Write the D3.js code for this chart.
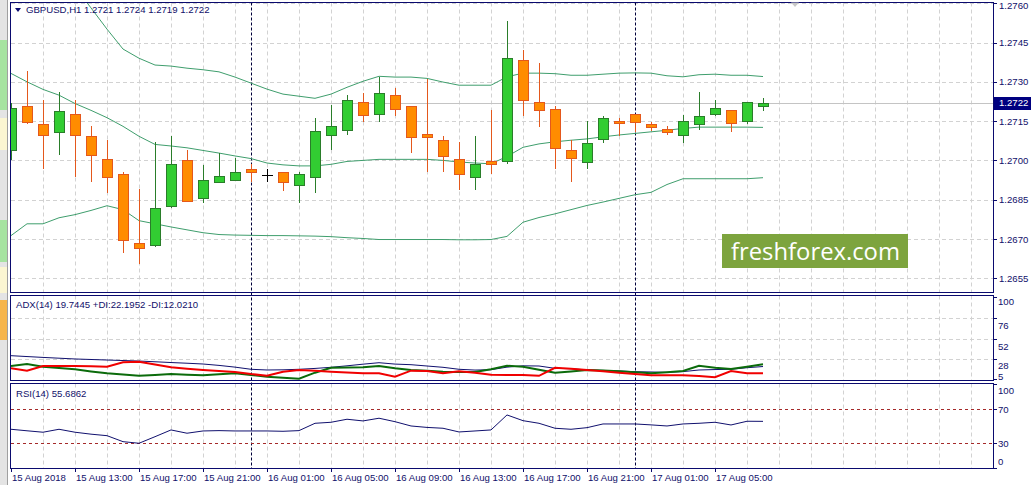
<!DOCTYPE html>
<html>
<head>
<meta charset="utf-8">
<script src="https://cdn.jsdelivr.net/npm/d3@7"></script>
<style>
body { margin: 0; background: #fff; }
svg text { font-family: "Liberation Sans", Arial, sans-serif; font-size: 9.6px; fill: #10106a; }
</style>
</head>
<body>
<svg id="chart" width="1035" height="485"></svg>
<script>
// GBPUSD H1, 15 Aug 09:00 .. 17 Aug 08:00 (one value per bar)
const openP  = [1.27038,1.27209,1.27140,1.27108,1.27179,1.27092,1.27006,1.26949,1.26685,1.26677,
                1.26825,1.27000,1.26856,1.26917,1.26925,1.26968,1.26945,1.26957,1.26907,1.26936,
                1.27097,1.27117,1.27221,1.27179,1.27251,1.27209,1.27100,1.27079,1.27006,1.26939,
                1.26997,1.26997,1.27382,1.27221,1.27198,1.27038,1.26997,1.27079,1.27149,1.27179,
                1.27140,1.27119,1.27097,1.27140,1.27178,1.27191,1.27147,1.27210];
const highP  = [1.27220,1.27341,1.27230,1.27260,1.27232,1.27130,1.27079,1.26954,1.26889,1.27070,
                1.27093,1.27041,1.26981,1.27028,1.27009,1.26987,1.26969,1.26957,1.26955,1.27163,
                1.27210,1.27251,1.27259,1.27319,1.27278,1.27209,1.27311,1.27092,1.27070,1.27092,
                1.27191,1.27532,1.27421,1.27372,1.27207,1.27079,1.27149,1.27171,1.27160,1.27179,
                1.27148,1.27130,1.27172,1.27261,1.27230,1.27191,1.27221,1.27240];
const lowP   = [1.27000,1.27138,1.26969,1.27019,1.26936,1.26917,1.26875,1.26645,1.26605,1.26670,
                1.26817,1.26844,1.26837,1.26917,1.26925,1.26917,1.26916,1.26885,1.26837,1.26875,
                1.27038,1.27096,1.27147,1.27147,1.27170,1.27028,1.26955,1.26955,1.26888,1.26888,
                1.26949,1.26987,1.27170,1.27127,1.26968,1.26917,1.26968,1.27066,1.27092,1.27108,
                1.27112,1.27096,1.27066,1.27115,1.27168,1.27108,1.27138,1.27190];
const closeP = [1.27199,1.27147,1.27098,1.27190,1.27098,1.27018,1.26938,1.26697,1.26666,1.26819,
                1.26987,1.26844,1.26926,1.26939,1.26957,1.26955,1.26945,1.26918,1.26949,1.27111,
                1.27130,1.27230,1.27170,1.27259,1.27198,1.27089,1.27089,1.27018,1.26949,1.26987,
                1.26987,1.27389,1.27228,1.27190,1.27049,1.27006,1.27068,1.27160,1.27140,1.27147,
                1.27127,1.27108,1.27149,1.27171,1.27199,1.27140,1.27221,1.27220];

// Bollinger bands
const bbUpper  = [1.27957,1.27888,1.27815,1.27739,1.27662,1.27582,1.27501,1.27425,1.27390,1.27364,
                  1.27360,1.27352,1.27346,1.27338,1.27318,1.27295,1.27272,1.27253,1.27245,1.27237,
                  1.27253,1.27279,1.27302,1.27321,1.27318,1.27318,1.27313,1.27299,1.27287,1.27287,
                  1.27287,1.27319,1.27333,1.27333,1.27331,1.27325,1.27325,1.27329,1.27333,1.27334,
                  1.27333,1.27323,1.27319,1.27327,1.27329,1.27325,1.27325,1.27320];
const bbMiddle = [1.27332,1.27300,1.27271,1.27249,1.27217,1.27191,1.27163,1.27130,1.27092,1.27061,
                  1.27055,1.27048,1.27038,1.27028,1.27017,1.27007,1.26990,1.26983,1.26979,1.26979,
                  1.26985,1.26996,1.27000,1.27004,1.27004,1.27004,1.27004,1.27000,1.26994,1.26990,
                  1.26987,1.27015,1.27050,1.27063,1.27071,1.27077,1.27082,1.27090,1.27097,1.27103,
                  1.27109,1.27115,1.27122,1.27127,1.27127,1.27127,1.27127,1.27126];
const bbLower  = [1.26713,1.26758,1.26758,1.26781,1.26793,1.26809,1.26827,1.26812,1.26770,1.26758,
                  1.26746,1.26735,1.26724,1.26717,1.26715,1.26714,1.26713,1.26713,1.26712,1.26711,
                  1.26709,1.26705,1.26702,1.26698,1.26698,1.26698,1.26698,1.26698,1.26697,1.26697,
                  1.26698,1.26710,1.26764,1.26782,1.26796,1.26812,1.26828,1.26841,1.26855,1.26869,
                  1.26878,1.26908,1.26930,1.26930,1.26930,1.26930,1.26930,1.26934];

// ADX(14)
const adxMain = [32.2,31.2,30.2,29.3,28.4,27.8,27.2,26.6,26.0,25.2,24.3,23.5,22.6,21.0,19.0,16.5,
                 15.7,15.9,16.5,17.5,18.8,20.5,22.4,24.1,22.5,21.8,20.3,18.8,16.5,15.6,16.0,19.0,
                 20.5,20.3,17.6,17.2,15.7,15.2,14.6,13.7,13.4,13.0,13.8,15.7,16.2,16.5,18.3,19.7];
const plusDI  = [20.3,22.6,19.5,18.0,16.5,14.0,11.9,10.5,9.1,10.0,11.1,10.3,9.6,10.8,11.9,10.0,
                 8.0,6.8,5.7,12.6,18.3,18.5,18.8,20.3,17.6,15.7,14.7,13.7,13.5,13.4,16.5,20.6,
                 19.5,16.0,12.6,14.0,15.7,15.0,14.2,13.0,11.9,13.0,14.5,20.6,18.3,16.8,19.5,22.2];
const minusDI = [17.6,14.9,20.3,20.3,20.3,20.0,19.5,24.6,25.3,22.0,18.8,17.2,15.7,14.5,13.4,11.0,
                 9.1,13.7,15.7,14.7,13.7,12.8,11.9,11.9,8.0,14.9,14.5,11.9,14.2,12.6,10.3,10.0,
                 9.9,9.0,18.3,17.0,15.7,14.2,12.6,11.0,9.6,9.6,9.6,8.8,7.3,14.5,11.9,12.0];

// RSI(14)
const rsiVals = [46.3,44.5,42.8,46.3,42.8,40.5,38.7,31.6,29.7,37.5,45.5,41.6,44.3,44.7,44.3,44.3,
                 44.3,43.9,44.7,53.4,54.6,58.2,56.2,59.4,55.3,50.2,48.5,47.5,43.1,44.3,45.5,63.3,
                 56.5,53.4,47.5,46.3,48.2,52.6,52.6,52.6,51.5,50.2,52.6,53.4,54.6,51.4,55.8,55.69];

const timeLabels = ["15 Aug 2018","15 Aug 13:00","15 Aug 17:00","15 Aug 21:00","16 Aug 01:00","16 Aug 05:00",
                    "16 Aug 09:00","16 Aug 13:00","16 Aug 17:00","16 Aug 21:00","17 Aug 01:00","17 Aug 05:00"];
const daySeparators = [15, 39];
const priceTicks = [1.2760, 1.2745, 1.2730, 1.2715, 1.2700, 1.2685, 1.2670, 1.2655];
const adxTicks = [100, 76, 52, 28, 5];
const adxGrid = [76, 52, 28];
const rsiTicks = [100, 70, 30, 0];
const rsiLevels = [70, 30];
const lastBid = 1.2722;

const svg = d3.select("#chart");
const navy = "#0a0a6e";
const gridCol = "#d2d2d2";

// scales
const x = d3.scaleLinear().domain([0, 61.375]).range([11, 993]);
const yP = d3.scaleLinear().domain([1.2655, 1.2760]).range([278.3, 3.2]);
const yA = d3.scaleLinear().domain([0, 100]).range([383.6, 296.9]);
const yR = d3.scaleLinear().domain([0, 100]).range([468.3, 384]);

const px = v => Math.round(v) + 0.5;

const panels = [
    {id: "pMain", top: 2.5, bottom: 292.5},
    {id: "pAdx", top: 295.5, bottom: 380.5},
    {id: "pRsi", top: 383.5, bottom: 468.5}
];

// left window strip
svg.append("rect").attr("x", 0).attr("y", 0).attr("width", 8).attr("height", 485).attr("fill", "#e4e4e4");
svg.append("rect").attr("x", 0).attr("y", 40).attr("width", 7).attr("height", 70).attr("fill", "#a6e3a0");
svg.append("rect").attr("x", 0).attr("y", 118).attr("width", 7).attr("height", 32).attr("fill", "#fbf6d2");
svg.append("rect").attr("x", 0).attr("y", 220).attr("width", 7).attr("height", 42).attr("fill", "#a6e3a0");
svg.append("rect").attr("x", 0).attr("y", 267).attr("width", 7).attr("height", 26).attr("fill", "#fbf6d2");
svg.append("rect").attr("x", 0).attr("y", 300).attr("width", 7).attr("height", 40).attr("fill", "#f6b54a");
svg.append("line").attr("x1", 7.5).attr("x2", 7.5).attr("y1", 0).attr("y2", 485).attr("stroke", "#a0a0a0");

const defs = svg.append("defs");
panels.forEach(p => {
    defs.append("clipPath").attr("id", "clip-" + p.id)
      .append("rect").attr("x", 11).attr("y", p.top + 0.5)
        .attr("width", 982).attr("height", p.bottom - p.top - 1);
});

// vertical grid in every panel
const gridIdx = d3.range(2, 62, 2);
panels.forEach(p => {
    svg.append("g").selectAll("line").data(gridIdx).join("line")
        .attr("x1", d => px(x(d))).attr("x2", d => px(x(d)))
        .attr("y1", p.top).attr("y2", p.bottom)
        .attr("stroke", gridCol).attr("stroke-dasharray", "4,3");
});

// horizontal grid
svg.append("g").selectAll("line").data(priceTicks).join("line")
    .attr("x1", 11).attr("x2", 993)
    .attr("y1", d => px(yP(d))).attr("y2", d => px(yP(d)))
    .attr("stroke", gridCol).attr("stroke-dasharray", "4,3");
svg.append("g").selectAll("line").data(adxGrid).join("line")
    .attr("x1", 11).attr("x2", 993)
    .attr("y1", d => px(yA(d))).attr("y2", d => px(yA(d)))
    .attr("stroke", gridCol).attr("stroke-dasharray", "4,3");

// bid line
svg.append("line").attr("x1", 11).attr("x2", 993)
    .attr("y1", px(yP(lastBid))).attr("y2", px(yP(lastBid)))
    .attr("stroke", "#c4c4c4");

// day separators
svg.append("g").selectAll("line").data(daySeparators).join("line")
    .attr("x1", d => px(x(d))).attr("x2", d => px(x(d)))
    .attr("y1", 2.5).attr("y2", 468.5)
    .attr("stroke", "#00003a").attr("stroke-dasharray", "3,2");

// watermark
svg.append("rect").attr("x", 722).attr("y", 234).attr("width", 186).attr("height", 34).attr("fill", "#7da43e");
svg.append("text").attr("x", 731).attr("y", 259.5)
    .attr("textLength", 169).attr("lengthAdjust", "spacingAndGlyphs")
    .style("font-family", "'Open Sans', 'DejaVu Sans', sans-serif").style("font-size", "24px").style("fill", "#ffffff")
    .text("freshforex.com");

// main panel: bands + candles
const gMain = svg.append("g").attr("clip-path", "url(#clip-pMain)");
const bandLine = arr => d3.line().x((d, i) => x(i)).y(d => yP(d))(arr);
[bbUpper, bbMiddle, bbLower].forEach(arr => {
    gMain.append("path").attr("d", bandLine(arr))
        .attr("fill", "none").attr("stroke", "#3f9e6d").attr("stroke-width", 1);
});

const bars = openP.map((o, i) => ({i: i, o: o, h: highP[i], l: lowP[i], c: closeP[i]}));
const upFill = "#32cd32", upLine = "#2a7d2a", dnFill = "#ff8c00", dnLine = "#e4581c";

const candle = gMain.selectAll("g.candle").data(bars).join("g").attr("class", "candle")
    .attr("shape-rendering", "crispEdges");
candle.append("line")
    .attr("x1", d => px(x(d.i))).attr("x2", d => px(x(d.i)))
    .attr("y1", d => yP(d.h)).attr("y2", d => yP(d.l))
    .attr("stroke", d => d.c > d.o ? upLine : (d.c < d.o ? dnLine : "#000"));
candle.filter(d => d.c !== d.o).append("rect")
    .attr("x", d => Math.round(x(d.i)) - 4.5)
    .attr("y", d => Math.round(yP(Math.max(d.o, d.c))) + 0.5)
    .attr("width", 10)
    .attr("height", d => Math.max(1, Math.round(Math.abs(yP(d.o) - yP(d.c)))))
    .attr("fill", d => d.c > d.o ? upFill : dnFill)
    .attr("stroke", d => d.c > d.o ? upLine : dnLine);
// doji is drawn in the line colour
candle.filter(d => d.c === d.o).append("line")
    .attr("x1", d => Math.round(x(d.i)) - 5).attr("x2", d => Math.round(x(d.i)) + 6)
    .attr("y1", d => px(yP(d.o))).attr("y2", d => px(yP(d.o)))
    .attr("stroke", "#000");

// ADX panel
const gAdx = svg.append("g").attr("clip-path", "url(#clip-pAdx)");
const adxLine = d3.line().x((d, i) => x(i)).y(d => yA(d));
gAdx.append("path").attr("d", adxLine(adxMain)).attr("fill", "none").attr("stroke", "#10106e").attr("stroke-width", 1);
gAdx.append("path").attr("d", adxLine(plusDI)).attr("fill", "none").attr("stroke", "#0b6b0b").attr("stroke-width", 2);
gAdx.append("path").attr("d", adxLine(minusDI)).attr("fill", "none").attr("stroke", "#f00000").attr("stroke-width", 2);

// RSI panel
const gRsi = svg.append("g").attr("clip-path", "url(#clip-pRsi)");
gRsi.selectAll("line.level").data(rsiLevels).join("line").attr("class", "level")
    .attr("x1", 11).attr("x2", 993)
    .attr("y1", d => px(yR(d))).attr("y2", d => px(yR(d)))
    .attr("stroke", "#a52a2a").attr("stroke-dasharray", "3,3");
gRsi.append("path").attr("d", d3.line().x((d, i) => x(i)).y(d => yR(d))(rsiVals))
    .attr("fill", "none").attr("stroke", "#10106e").attr("stroke-width", 1);

// panel frames
panels.forEach(p => {
    svg.append("rect").attr("x", 10.5).attr("y", p.top)
        .attr("width", 983).attr("height", p.bottom - p.top)
        .attr("fill", "none").attr("stroke", navy);
});

// right price axis
const axisG = svg.append("g");
axisG.selectAll("line.pt").data(priceTicks).join("line").attr("class", "pt")
    .attr("x1", 993).attr("x2", 997)
    .attr("y1", d => px(yP(d))).attr("y2", d => px(yP(d))).attr("stroke", navy);
axisG.selectAll("text.pt").data(priceTicks).join("text").attr("class", "pt")
    .attr("x", 999).attr("y", d => Math.max(yP(d) + 3.5, 9))
    .text(d => d.toFixed(4));

// bid label
svg.append("rect").attr("x", 994).attr("y", px(yP(lastBid)) - 6.5).attr("width", 37).attr("height", 13).attr("fill", "#000080");
svg.append("text").attr("x", 999).attr("y", yP(lastBid) + 3.5).style("fill", "#fff").text(lastBid.toFixed(4));

// ADX axis
axisG.selectAll("line.at").data(adxTicks).join("line").attr("class", "at")
    .attr("x1", 993).attr("x2", 997)
    .attr("y1", d => px(yA(d))).attr("y2", d => px(yA(d))).attr("stroke", navy);
axisG.selectAll("text.at").data(adxTicks).join("text").attr("class", "at")
    .attr("x", 998)
    .attr("y", d => d === 100 ? yA(d) + 8.5 : (d === 5 ? yA(d) + 0.5 : (d === 28 ? yA(d) + 9.5 : yA(d) + 11)))
    .text(d => d);

// RSI axis
axisG.selectAll("line.rt").data(rsiTicks).join("line").attr("class", "rt")
    .attr("x1", 993).attr("x2", 997)
    .attr("y1", d => px(yR(d))).attr("y2", d => px(yR(d))).attr("stroke", navy);
axisG.selectAll("text.rt").data(rsiTicks).join("text").attr("class", "rt")
    .attr("x", 998)
    .attr("y", d => d === 100 ? yR(d) + 10 : (d === 0 ? yR(d) - 3 : yR(d) + 3.5))
    .text(d => d);

// time axis
const tickIdx = timeLabels.map((t, k) => k * 4);
svg.append("g").selectAll("line").data(tickIdx).join("line")
    .attr("x1", d => px(x(d))).attr("x2", d => px(x(d)))
    .attr("y1", 468.5).attr("y2", 472).attr("stroke", navy);
svg.append("g").selectAll("text").data(timeLabels).join("text")
    .attr("x", (d, k) => x(tickIdx[k]) + 1).attr("y", 481)
    .text(d => d);

// chart shift marker
svg.append("path").attr("d", "M791,2.5 L799,2.5 L795,7 Z").attr("fill", "#c8c8c8");

// titles
svg.append("path").attr("d", "M15,8 L21,8 L18,12 Z").attr("fill", navy);
svg.append("text").attr("x", 26).attr("y", 13).text("GBPUSD,H1  1.2721 1.2724 1.2719 1.2722");
svg.append("text").attr("x", 16).attr("y", 307.5).text("ADX(14) 19.7445 +DI:22.1952 -DI:12.0210");
svg.append("text").attr("x", 16).attr("y", 396.5).text("RSI(14) 55.6862");
</script>
</body>
</html>
